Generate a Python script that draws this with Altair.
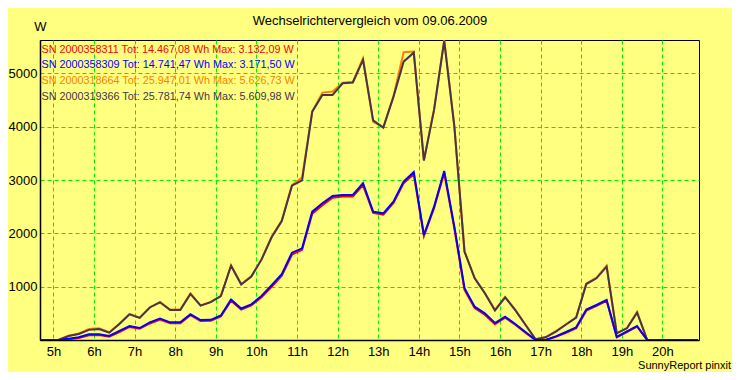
import altair as alt
import pandas as pd

# quarter-hour interval midpoints (decimal hours), 04:37.5 ... 20:52.5
times = [4.625 + 0.25 * k for k in range(66)]

# SN 2000358311 (red)
red = [0, 0, 0, 15, 35, 90, 95, 60, 150, 245, 210, 310, 385, 315, 315, 465, 355, 360, 440, 735,
       570, 650, 800, 1000, 1205, 1600, 1690, 2370, 2530, 2670, 2690, 2690, 2905, 2385, 2350,
       2570, 2940, 3110, 1950, 2470, 3132, 2090, 940, 600, 475, 295, 420, 285, 135, 0, 0, 60,
       135, 220, 550, 640, 735, 50, 150, 250, 0, 0, 0, 0, 0, 0]
# SN 2000358309 (blue)
blue = [0, 0, 0, 25, 50, 106, 106, 75, 170, 263, 225, 330, 400, 331, 331, 482, 375, 378, 460, 757,
        590, 669, 826, 1028, 1235, 1638, 1720, 2407, 2564, 2701, 2720, 2720, 2940, 2407, 2376,
        2595, 2970, 3150, 1970, 2501, 3171, 2126, 970, 625, 500, 318, 438, 300, 150, 0, 0, 69,
        150, 238, 570, 657, 750, 60, 160, 263, 0, 0, 0, 0, 0, 0]
# SN 2000318664 (orange)
orange = [0, 0, 0, 80, 120, 205, 219, 145, 305, 490, 420, 615, 715, 570, 570, 875, 650, 715, 830,
          1400, 1050, 1195, 1515, 1940, 2245, 2905, 3050, 4290, 4640, 4660, 4825, 4840, 5285, 4090,
          3990, 4570, 5397, 5410, 3380, 4325, 5627, 4010, 1665, 1165, 885, 565, 810, 565, 290, 15,
          55, 165, 295, 425, 1060, 1170, 1395, 130, 225, 530, 0, 0, 0, 0, 0, 0]
# SN 2000319366 (dark)
dark = [0, 0, 0, 75, 113, 190, 206, 138, 300, 482, 415, 610, 707, 563, 563, 865, 644, 710, 825,
        1394, 1040, 1190, 1507, 1926, 2230, 2895, 2995, 4283, 4596, 4596, 4815, 4830, 5253, 4120,
        3985, 4560, 5221, 5390, 3364, 4315, 5610, 4002, 1657, 1157, 876, 555, 801, 560, 286, 13,
        50, 157, 290, 419, 1050, 1157, 1375, 125, 219, 513, 0, 0, 0, 0, 0, 0]

series_names = ["SN 2000358311", "SN 2000358309", "SN 2000318664", "SN 2000319366"]
series_colors = ["#FF0000", "#0000FF", "#FF8000", "#46344A"]
legend_texts = [
    "SN 2000358311 Tot: 14.467,08 Wh Max: 3.132,09 W",
    "SN 2000358309 Tot: 14.741,47 Wh Max: 3.171,50 W",
    "SN 2000318664 Tot: 25.947,01 Wh Max: 5.626,73 W",
    "SN 2000319366 Tot: 25.781,74 Wh Max: 5.609,98 W",
]
x_ticks = list(range(5, 21))
y_ticks = [1000, 2000, 3000, 4000, 5000]

rows = []
for name, vals in zip(series_names, [red, blue, orange, dark]):
    for t, v in zip(times, vals):
        rows.append({"series": name, "t": t, "w": v})
df = pd.DataFrame(rows)

FONT = "Liberation Sans"
xscale = alt.Scale(domain=[4.67, 20.9], nice=False, zero=False)
yscale = alt.Scale(domain=[0, 5627], nice=False)
cscale = alt.Scale(domain=series_names, range=series_colors)
xaxis = alt.Axis(values=x_ticks, labelExpr="datum.value + 'h'", title=None)
yaxis = alt.Axis(values=y_ticks, format="d", title=None)

def line_layer(name):
    return (alt.Chart(df).transform_filter(alt.datum.series == name)
            .mark_line(strokeWidth=2, clip=True)
            .encode(x=alt.X("t:Q", scale=xscale, axis=xaxis),
                    y=alt.Y("w:Q", scale=yscale, axis=yaxis),
                    color=alt.Color("series:N", scale=cscale, legend=None)))

order = [2, 3, 0, 1]  # orange, dark, red, blue
layers = [line_layer(series_names[i]) for i in order]

def label(text, x, y, size, color="black", align="left", baseline="middle"):
    return (alt.Chart(pd.DataFrame({"txt": [text]}))
            .mark_text(font=FONT, fontSize=size, color=color, align=align, baseline=baseline)
            .encode(text="txt:N", x=alt.value(x), y=alt.value(y)))

texts = [label("Wechselrichtervergleich vom 09.06.2009", 330, -19.5, 13, align="center"),
         label("W", 0.5, -13, 13, align="center"),
         label("SunnyReport pinxit", 691, 328.5, 11, align="right", baseline="alphabetic")]
for k, (txt, col) in enumerate(zip(legend_texts, series_colors)):
    texts.append(label(txt, 1.5, 9.5 + 15.8 * k, 10.8, color=col))

chart = (alt.layer(*layers, *texts)
         .properties(width=659, height=300, autosize="none",
                     padding={"left": 32, "top": 32, "right": 33, "bottom": 32})
         .configure(background="#FFFF80")
         .configure_view(fill="#FFFF80", stroke="black", strokeWidth=1)
         .configure_axis(grid=True, gridColor="#00EE00", gridDash=[4, 3], gridWidth=1,
                         ticks=False, domain=True, domainColor="black", domainWidth=1.5,
                         labelFont=FONT, labelFontSize=13, labelColor="black")
         .configure_axisX(labelPadding=5)
         .configure_axisY(labelPadding=3))

chart.save("out.html", embed_options={"renderer": "svg", "actions": False})
